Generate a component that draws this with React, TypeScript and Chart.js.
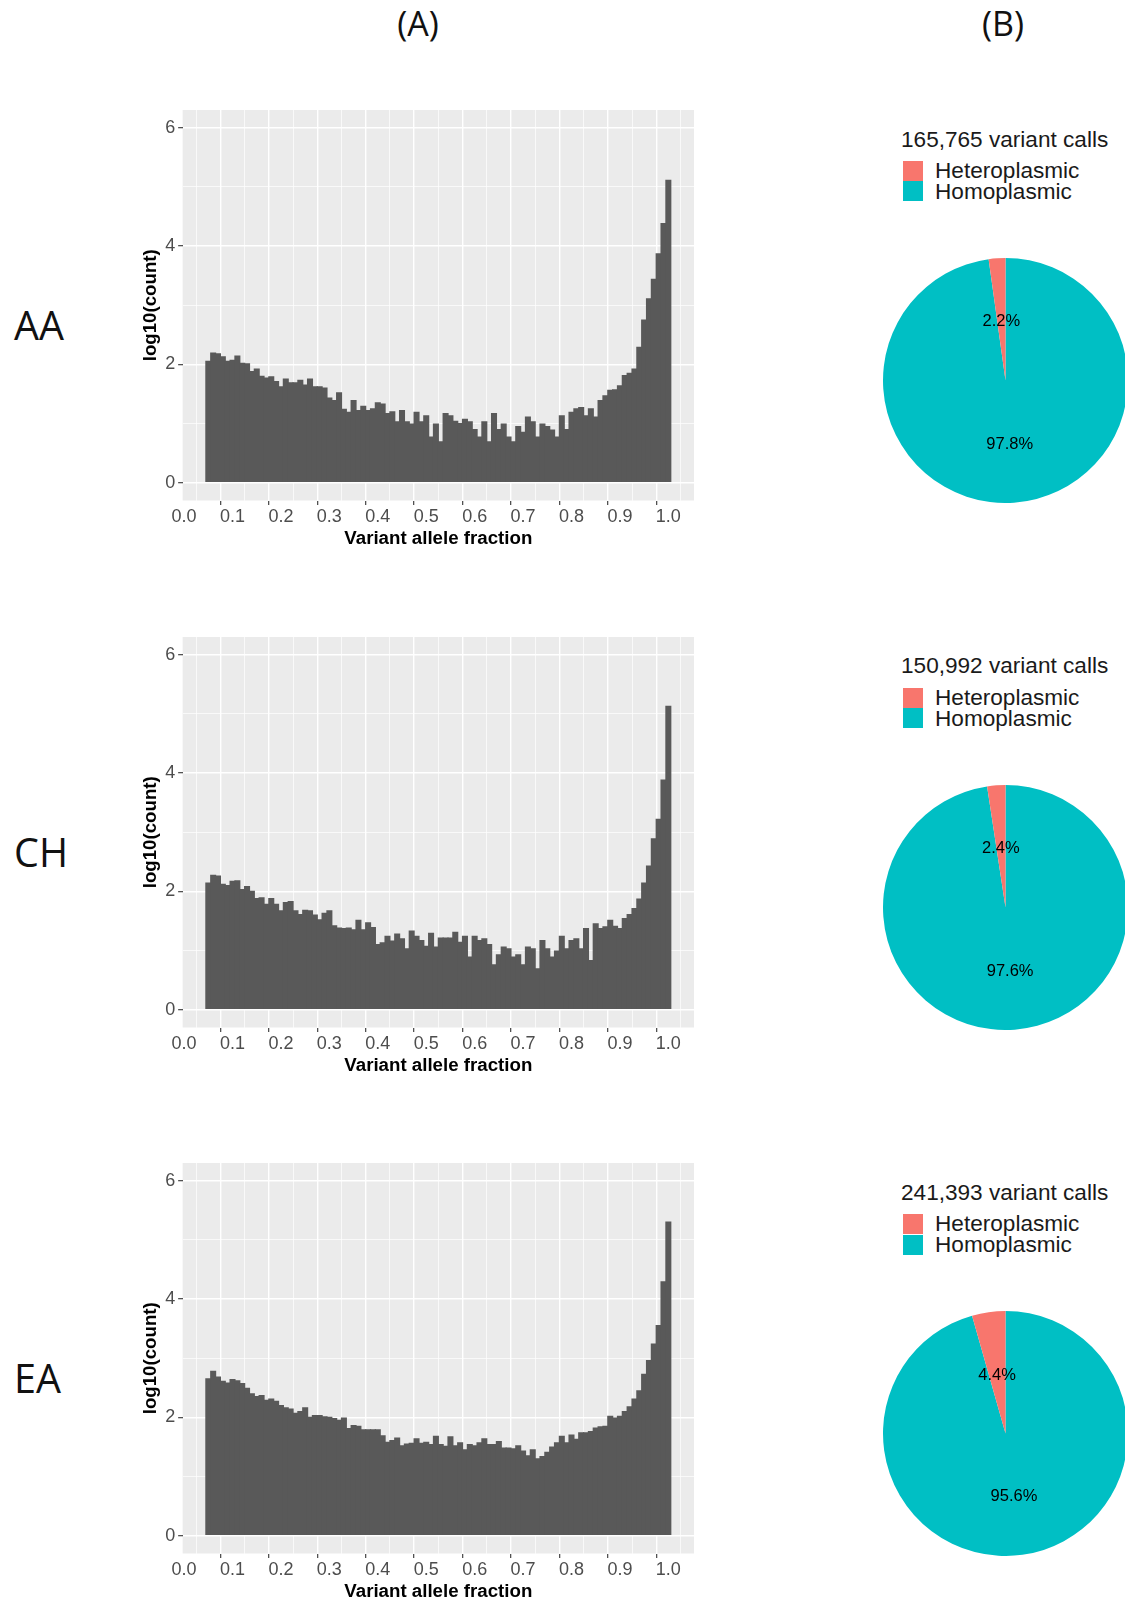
import React, { useEffect, useRef } from "react";
import { Chart, registerables } from "chart.js";

Chart.register(...registerables);

// ---------------- DATA ----------------
const binCenters = [
  0.05, 0.06, 0.07, 0.08, 0.09, 0.1, 0.11, 0.12, 0.13, 0.14,
  0.15, 0.16, 0.17, 0.18, 0.19, 0.2, 0.21, 0.22, 0.23, 0.24,
  0.25, 0.26, 0.27, 0.28, 0.29, 0.3, 0.31, 0.32, 0.33, 0.34,
  0.35, 0.36, 0.37, 0.38, 0.39, 0.4, 0.41, 0.42, 0.43, 0.44,
  0.45, 0.46, 0.47, 0.48, 0.49, 0.5, 0.51, 0.52, 0.53, 0.54,
  0.55, 0.56, 0.57, 0.58, 0.59, 0.6, 0.61, 0.62, 0.63, 0.64,
  0.65, 0.66, 0.67, 0.68, 0.69, 0.7, 0.71, 0.72, 0.73, 0.74,
  0.75, 0.76, 0.77, 0.78, 0.79, 0.8, 0.81, 0.82, 0.83, 0.84,
  0.85, 0.86, 0.87, 0.88, 0.89, 0.9, 0.91, 0.92, 0.93, 0.94,
  0.95, 0.96, 0.97, 0.98, 0.99, 1.0,
];

const aaLog10Count = [
  2.06, 2.20, 2.19, 2.14, 2.06, 2.08, 2.15, 2.03, 2.02, 1.89,
  1.93, 1.81, 1.78, 1.80, 1.72, 1.63, 1.76, 1.70, 1.70, 1.74,
  1.66, 1.76, 1.63, 1.63, 1.61, 1.44, 1.40, 1.53, 1.25, 1.20,
  1.40, 1.23, 1.30, 1.23, 1.26, 1.36, 1.34, 1.18, 1.21, 1.04,
  1.23, 1.04, 1.00, 1.20, 1.04, 1.14, 0.78, 1.00, 0.70, 1.18,
  1.14, 1.05, 1.01, 1.08, 1.04, 0.91, 0.78, 1.04, 0.70, 1.18,
  0.91, 1.00, 0.78, 0.70, 0.96, 0.86, 1.12, 1.04, 0.78, 1.00,
  0.96, 0.90, 0.78, 1.14, 0.91, 1.20, 1.26, 1.28, 1.14, 1.26,
  1.12, 1.40, 1.48, 1.57, 1.58, 1.65, 1.82, 1.86, 1.93, 2.30,
  2.76, 3.12, 3.45, 3.88, 4.39, 5.12,
];

const chLog10Count = [
  2.15, 2.28, 2.27, 2.13, 2.11, 2.18, 2.19, 2.04, 2.09, 2.01,
  1.89, 1.90, 1.79, 1.89, 1.79, 1.68, 1.82, 1.84, 1.68, 1.62,
  1.69, 1.68, 1.61, 1.53, 1.64, 1.68, 1.43, 1.39, 1.38, 1.39,
  1.36, 1.52, 1.36, 1.48, 1.40, 1.11, 1.14, 1.25, 1.17, 1.29,
  1.21, 1.04, 1.34, 1.25, 1.18, 1.08, 1.30, 1.07, 1.22, 1.22,
  1.22, 1.32, 1.15, 1.25, 0.90, 1.25, 1.18, 1.21, 1.11, 0.77,
  0.94, 1.07, 1.04, 0.90, 0.94, 0.77, 1.07, 1.04, 0.70, 1.18,
  1.04, 0.90, 1.00, 1.25, 1.04, 1.18, 1.21, 1.04, 1.38, 0.84,
  1.46, 1.38, 1.41, 1.52, 1.42, 1.38, 1.55, 1.62, 1.72, 1.88,
  2.15, 2.44, 2.90, 3.23, 3.89, 5.14,
];

const eaLog10Count = [
  2.66, 2.79, 2.69, 2.62, 2.59, 2.65, 2.63, 2.58, 2.50, 2.41,
  2.36, 2.38, 2.30, 2.32, 2.28, 2.21, 2.17, 2.15, 2.08, 2.11,
  2.17, 2.01, 2.04, 2.04, 2.02, 2.01, 1.99, 1.96, 2.00, 1.82,
  1.87, 1.86, 1.80, 1.80, 1.80, 1.80, 1.70, 1.59, 1.62, 1.66,
  1.53, 1.56, 1.57, 1.65, 1.57, 1.59, 1.55, 1.69, 1.55, 1.52,
  1.68, 1.53, 1.58, 1.46, 1.55, 1.53, 1.58, 1.65, 1.55, 1.55,
  1.60, 1.49, 1.49, 1.48, 1.53, 1.44, 1.36, 1.46, 1.31, 1.35,
  1.42, 1.51, 1.58, 1.69, 1.58, 1.71, 1.64, 1.75, 1.75, 1.77,
  1.83, 1.85, 1.86, 2.03, 2.00, 2.03, 2.11, 2.19, 2.32, 2.46,
  2.74, 2.97, 3.25, 3.56, 4.30, 5.31,
];

// gridline positions (major every 0.1 with label, minor halfway)
const xGridValues = [
  0, 0.05, 0.1, 0.15, 0.2, 0.25, 0.3, 0.35, 0.4, 0.45, 0.5,
  0.55, 0.6, 0.65, 0.7, 0.75, 0.8, 0.85, 0.9, 0.95, 1.0, 1.05,
];
const yGridValues = [0, 1, 2, 3, 4, 5, 6];

const populations = ["AA", "CH", "EA"];
const variantCallTotals = ["165,765", "150,992", "241,393"];
const pieCategories = ["Heteroplasmic", "Homoplasmic"];
const heteroplasmicPct = [2.2, 2.4, 4.4];
const homoplasmicPct = [97.8, 97.6, 95.6];
const histogramSeries = [aaLog10Count, chLog10Count, eaLog10Count];

// ---------------- STYLE ----------------
const ROW_STEP = 526.6;
const SANS = '"Liberation Sans", Arial, Helvetica, sans-serif';
const HEAD = '"Open Sans", "Noto Sans", sans-serif';
const HETERO_COLOR = "#F8766D";
const HOMO_COLOR = "#00BFC4";

const tickVal = (c: any) => (c && c.tick ? Number(c.tick.value) : NaN);
const isMajorX = (v: number) => Math.round(v * 100) % 10 === 0;
const isMajorY = (v: number) => Math.round(v) % 2 === 0;

const panelBackground = {
  id: "panelBackground",
  beforeDraw(chart: any) {
    const { ctx, chartArea: a } = chart;
    ctx.save();
    ctx.fillStyle = "#EBEBEB";
    ctx.fillRect(a.left, a.top, a.right - a.left, a.bottom - a.top);
    ctx.restore();
  },
};

function Histogram({ values, dy }: { values: number[]; dy: number }) {
  const ref = useRef<HTMLCanvasElement>(null);
  useEffect(() => {
    const chart = new Chart(ref.current as HTMLCanvasElement, {
      type: "bar",
      data: {
        datasets: [
          {
            data: binCenters.map((x, i) => ({ x, y: values[i] })),
            backgroundColor: "#595959",
            borderWidth: 0,
            inflateAmount: 0,
            barPercentage: 1.25,
            categoryPercentage: 1,
          } as any,
        ],
      },
      options: {
        animation: false,
        responsive: false,
        maintainAspectRatio: false,
        events: [],
        layout: { padding: { left: 0, top: 15, right: 16, bottom: 0 } },
        plugins: { legend: { display: false }, tooltip: { enabled: false } },
        scales: {
          x: {
            type: "linear",
            min: -0.003,
            max: 1.053,
            offset: false,
            afterBuildTicks: (axis: any) => {
              axis.ticks = xGridValues.map((v) => ({ value: v }));
            },
            afterFit: (axis: any) => {
              axis.height = 59.5;
            },
            border: { display: false },
            grid: {
              z: -1,
              color: "#FFFFFF",
              lineWidth: (c: any) => (isMajorX(tickVal(c)) ? 1.4 : 0.7),
              drawTicks: true,
              tickLength: 4.5,
              tickWidth: 1.1,
              tickColor: (c: any) =>
                isMajorX(tickVal(c)) ? "#333333" : "rgba(0,0,0,0)",
            },
            ticks: {
              autoSkip: false,
              maxRotation: 0,
              padding: 1,
              color: "#4D4D4D",
              font: { family: SANS, size: 18 },
              callback: (v: any) => (isMajorX(Number(v)) ? Number(v).toFixed(1) : ""),
            },
            title: {
              display: true,
              text: "Variant allele fraction",
              color: "#000000",
              font: { family: SANS, size: 18.7, weight: "bold" },
              padding: { top: 0, bottom: 10 },
            },
          },
          y: {
            min: -0.3,
            max: 6.3,
            afterBuildTicks: (axis: any) => {
              axis.ticks = yGridValues.map((v) => ({ value: v }));
            },
            afterFit: (axis: any) => {
              axis.width = 72.65;
            },
            border: { display: false },
            grid: {
              z: -1,
              color: "#FFFFFF",
              lineWidth: (c: any) => (isMajorY(tickVal(c)) ? 1.4 : 0.7),
              drawTicks: true,
              tickLength: 4.5,
              tickWidth: 1.1,
              tickColor: (c: any) =>
                isMajorY(tickVal(c)) ? "#333333" : "rgba(0,0,0,0)",
            },
            ticks: {
              autoSkip: false,
              padding: 3,
              color: "#4D4D4D",
              font: { family: SANS, size: 18 },
              callback: (v: any) => (isMajorY(Number(v)) ? String(v) : ""),
            },
            title: {
              display: true,
              text: "log10(count)",
              color: "#000000",
              font: { family: SANS, size: 18.7, weight: "bold" },
              padding: { top: 29.5, bottom: 0 },
            },
          },
        },
      } as any,
      plugins: [panelBackground],
    });
    return () => chart.destroy();
  }, [values]);
  return (
    <canvas
      ref={ref}
      width={600}
      height={465}
      style={{ position: "absolute", left: 110, top: 95 + dy, width: 600, height: 465 }}
    />
  );
}

const sliceLabels = {
  id: "sliceLabels",
  afterDatasetsDraw(chart: any) {
    const { ctx } = chart;
    const meta = chart.getDatasetMeta(0);
    const ds = chart.data.datasets[0];
    ctx.save();
    ctx.fillStyle = "#000000";
    ctx.font = `16.5px ${SANS}`;
    ctx.textAlign = "center";
    ctx.textBaseline = "middle";
    meta.data.forEach((arc: any, i: number) => {
      const { x, y, startAngle, endAngle, outerRadius } = arc.getProps(
        ["x", "y", "startAngle", "endAngle", "outerRadius"],
        true
      );
      const mid = (startAngle + endAngle) / 2;
      const r = outerRadius * 0.5;
      ctx.fillText(`${ds.data[i]}%`, x + Math.cos(mid) * r, y + Math.sin(mid) * r + 2.5);
    });
    ctx.restore();
  },
};

function PieChart({ hetero, homo, dy }: { hetero: number; homo: number; dy: number }) {
  const ref = useRef<HTMLCanvasElement>(null);
  useEffect(() => {
    const chart = new Chart(ref.current as HTMLCanvasElement, {
      type: "pie",
      data: {
        labels: [pieCategories[1], pieCategories[0]],
        datasets: [
          {
            data: [homo, hetero],
            backgroundColor: [HOMO_COLOR, HETERO_COLOR],
            borderWidth: 0,
          },
        ],
      },
      options: {
        animation: false,
        responsive: false,
        maintainAspectRatio: false,
        events: [],
        layout: { padding: 0 },
        plugins: { legend: { display: false }, tooltip: { enabled: false } },
      } as any,
      plugins: [sliceLabels],
    });
    return () => chart.destroy();
  }, [hetero, homo]);
  return (
    <canvas
      ref={ref}
      width={245}
      height={245}
      style={{ position: "absolute", left: 883.2, top: 258 + dy, width: 245, height: 245 }}
    />
  );
}

function Legend({ total, dy }: { total: string; dy: number }) {
  const text = (content: string, left: number, top: number) => (
    <div
      style={{
        position: "absolute",
        left,
        top: top + dy,
        font: `22.6px ${SANS}`,
        lineHeight: "22.6px",
        color: "#1A1A1A",
        whiteSpace: "nowrap",
      }}
    >
      {content}
    </div>
  );
  const box = (color: string, top: number) => (
    <div
      style={{
        position: "absolute",
        left: 902.7,
        top: top + dy,
        width: 20,
        height: 20,
        background: color,
      }}
    />
  );
  return (
    <>
      {text(`${total} variant calls`, 901, 128.6)}
      {box(HETERO_COLOR, 161)}
      {box(HOMO_COLOR, 181.3)}
      {text(pieCategories[0], 935, 160.2)}
      {text(pieCategories[1], 935, 180.9)}
    </>
  );
}

const headStyle = (left: number): React.CSSProperties => ({
  position: "absolute",
  left,
  width: 100,
  top: 6.3,
  textAlign: "center",
  font: `34px ${HEAD}`,
  lineHeight: "34px",
  color: "#111",
});

export default function App() {
  return (
    <div
      style={{
        position: "absolute",
        left: 0,
        top: 0,
        width: 1125,
        height: 1602,
        overflow: "hidden",
        background: "#FFFFFF",
      }}
    >
      <div style={headStyle(368)}>(A)</div>
      <div style={headStyle(953)}>(B)</div>
      {populations.map((p, r) => (
        <React.Fragment key={p}>
          <div
            style={{
              position: "absolute",
              left: 14,
              top: 341 - 0.888 * 39.5 + r * ROW_STEP,
              font: `39.5px ${HEAD}`,
              lineHeight: "39.5px",
              color: "#111",
            }}
          >
            {p}
          </div>
          <Histogram values={histogramSeries[r]} dy={r * ROW_STEP} />
          <PieChart hetero={heteroplasmicPct[r]} homo={homoplasmicPct[r]} dy={r * ROW_STEP} />
          <Legend total={variantCallTotals[r]} dy={r * ROW_STEP} />
        </React.Fragment>
      ))}
    </div>
  );
}
